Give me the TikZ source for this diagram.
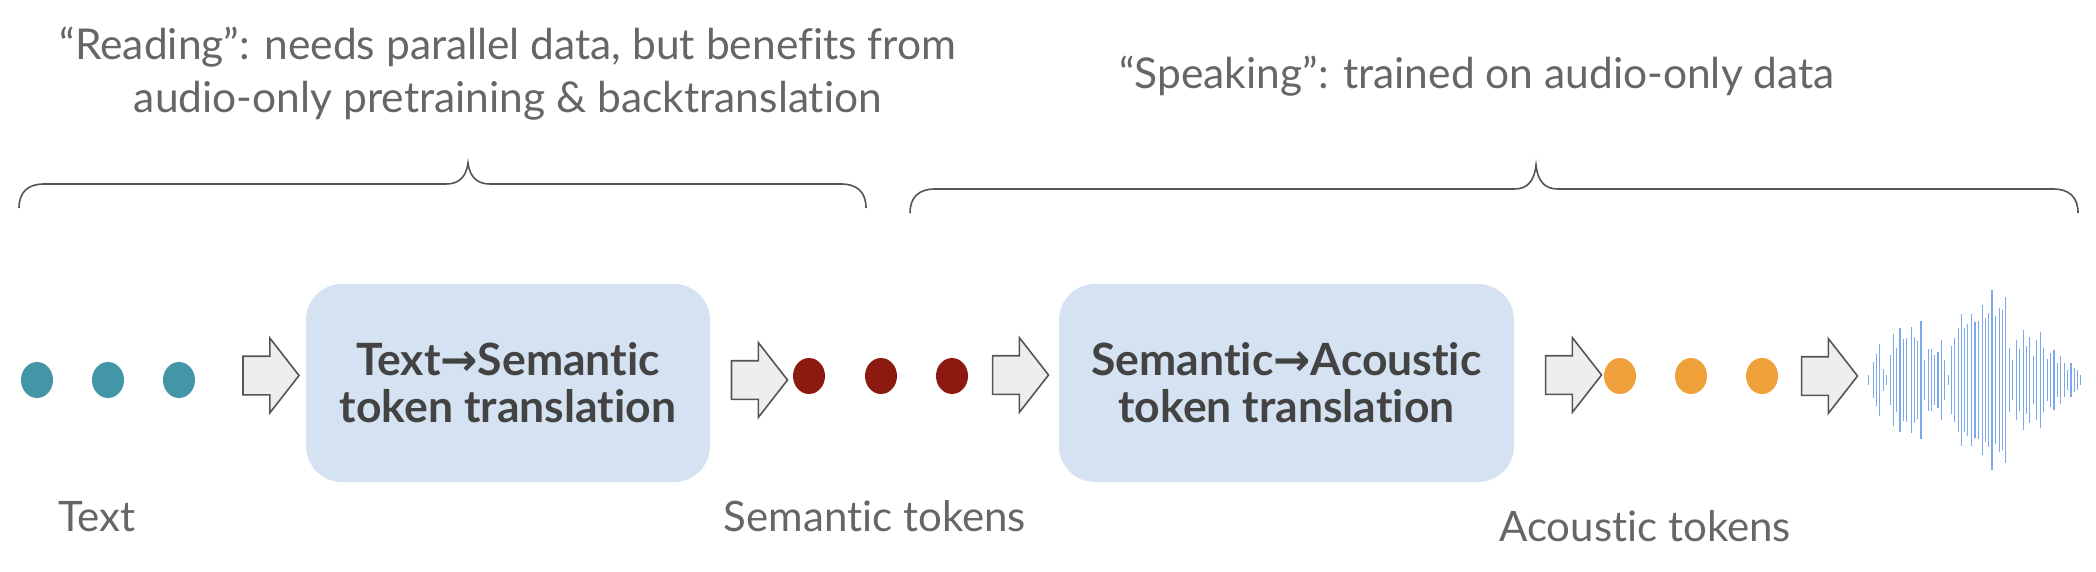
\documentclass[tikz,border=0pt]{standalone}
\usepackage{fontspec}
\setmainfont{Lato}[Ligatures=NoCommon]
\newfontfamily\arrowfont{DejaVu Sans}
\usetikzlibrary{shapes.arrows,shapes.geometric}
\definecolor{txtgray}{HTML}{666666}
\definecolor{boxtxt}{HTML}{434343}
\definecolor{boxfill}{HTML}{D5E2F1}
\definecolor{teal}{HTML}{4396A6}
\definecolor{semred}{HTML}{8C1A11}
\definecolor{acorange}{HTML}{F0A03A}
\definecolor{arrfill}{HTML}{EEEEEE}
\definecolor{arrline}{HTML}{555555}
\definecolor{wavecol}{HTML}{7BA7EE}
\begin{document}
\begin{tikzpicture}[x=1pt,y=-1pt,
  lbl/.style={text=txtgray,font=\fontsize{42}{50}\selectfont,inner sep=0,anchor=base},
  toplbl/.style={text=txtgray,font=\fontsize{42.5}{53}\selectfont,inner sep=0,align=center},
  tbox/.style={fill=boxfill,rounded corners=36pt,minimum width=404pt,minimum height=198pt,
    text=boxtxt,font=\bfseries\fontsize{44.5}{47}\selectfont,align=center},
  blockarrow/.style={single arrow,draw=arrline,fill=arrfill,line width=1.6pt,
    inner xsep=0pt,inner ysep=18.5pt,minimum height=56pt,
    single arrow head extend=18pt,single arrow tip angle=104,single arrow head indent=0pt},
  tok/.style={ellipse,inner sep=0,minimum width=32pt,minimum height=36pt},
  brace/.style={draw=arrline,line width=1.6pt},
  wave/.style={draw=wavecol,line width=1.1pt}]
\useasboundingbox (0,0) rectangle (2096,572);

% top labels
\node[toplbl] (reading) at (508,74) {“Reading”: needs parallel data, but benefits from\\audio-only pretraining \& backtranslation};
\node[toplbl] (speaking) at (1477,76) {“Speaking”: trained on audio-only data};

% braces
\draw[brace] (19,208) .. controls (19,192) and (28,184) .. (44,184) -- (446,184)
  .. controls (458,184) and (466,178) .. (468,163)
  .. controls (470,178) and (478,184) .. (490,184) -- (841,184)
  .. controls (857,184) and (866,192) .. (866,208);
\draw[brace] (910,213) .. controls (910,197) and (919,189) .. (935,189) -- (1514,189)
  .. controls (1526,189) and (1534,183) .. (1536,165)
  .. controls (1538,183) and (1546,189) .. (1558,189) -- (2053,189)
  .. controls (2069,189) and (2078,197) .. (2078,213);

% text tokens
\node[tok,fill=teal] (t1) at (37,380) {};
\node[tok,fill=teal] (t2) at (108,380) {};
\node[tok,fill=teal] (t3) at (179,380) {};
\node[blockarrow] (a1) at (263.5,375.5) {};

\node[tbox] (b1) at (508,383) {Text{\arrowfont →}Semantic\\token translation};
\node[blockarrow] (a2) at (752,380) {};

\node[tok,fill=semred] (s1) at (809,376) {};
\node[tok,fill=semred] (s2) at (881,376) {};
\node[tok,fill=semred] (s3) at (952,376) {};
\node[blockarrow] (a3) at (1013,375) {};

\node[tbox,minimum width=455pt] (b2) at (1286.5,383) {Semantic{\arrowfont →}Acoustic\\token translation};
\node[blockarrow] (a4) at (1566,375) {};

\node[tok,fill=acorange] (o1) at (1620,376) {};
\node[tok,fill=acorange] (o2) at (1691,376) {};
\node[tok,fill=acorange] (o3) at (1762,376) {};
\node[blockarrow] (a5) at (1822,376) {};

% waveform
\foreach \xz/\h in {1050/5,1060/18,1068/26,1075/36,1082/11,1090/5,1098/25,1106/46,1113/32,1120/52,
  1128/41,1135/42,1145/53,1152/43,1160/39,1167/59,1175/20,1183/31,1190/31,1198/25,1205/28,1213/40,
  1220/20,1228/5,1235/34,1243/42,1250/52,1257/66,1265/52,1272/56,1280/66,1288/58,1296/59,1304/75,
  1311/62,1318/67,1326/90,1334/64,1342/72,1350/70,1357/83,1365/32,1372/20,1380/40,1388/31,1396/50,
  1403/34,1410/43,1418/24,1425/40,1435/48,1442/32,1450/21,1457/27,1465/30,1472/17,1480/24,1488/17,
  1496/10,1503/17,1511/12,1518/10,1525/5}
  {\draw[wave] ({1400+\xz/2.24},{380-\h}) -- ({1400+\xz/2.24},{380+\h});}

% bottom labels
\node[lbl] (ltext) at (97,531) {Text};
\node[lbl] (lsem) at (875,531) {Semantic tokens};
\node[lbl] (lac) at (1645,541) {Acoustic tokens};
\end{tikzpicture}
\end{document}
